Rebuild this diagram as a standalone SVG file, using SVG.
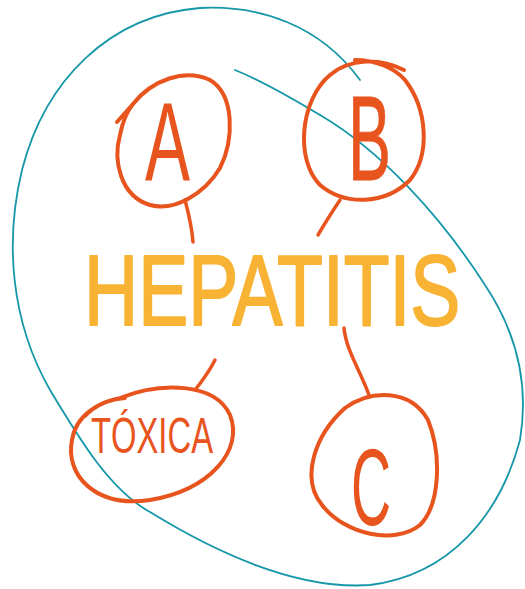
<svg xmlns="http://www.w3.org/2000/svg" width="525" height="589" viewBox="0 0 525 589">
<style>
.teal{fill:none;stroke:#1597a8;stroke-width:1.8;stroke-linecap:round;stroke-linejoin:round}
.ring{fill:none;stroke:#e8541e;stroke-width:4;stroke-linecap:round;stroke-linejoin:round}
.conn{fill:none;stroke:#e8541e;stroke-width:3.5;stroke-linecap:round}
.big{font-family:"Liberation Sans",Arial,sans-serif;fill:#e8541e;stroke:#e8541e;stroke-linejoin:round}
.title{font-family:"Liberation Sans",Arial,sans-serif;font-size:100px;fill:#f8b334;stroke:#f8b334;stroke-width:2;stroke-linejoin:round}
</style>
<rect width="525" height="589" fill="#ffffff"/>
<g id="outline">
<path class="teal" d="M 360,80 C 320,25 260,5 200,8 C 110,15 45,80 22,170 C 5,240 10,320 50,390 C 80,440 110,490 150,512 C 220,555 300,590 370,585 C 450,575 500,515 520,440 C 530,380 515,330 485,285 C 440,215 380,150 320,115 C 290,97 260,80 235,70"/>
</g>
<g id="connectors">
<path class="conn" d="M 185,200 C 189,215 192,228 193,242"/>
<path class="conn" d="M 340,200 C 332,212 325,223 318,235"/>
<path class="conn" d="M 215,360 C 210,370 203,380 195,390"/>
<path class="conn" d="M 344,328 C 346,350 360,370 369,395"/>
</g>
<g id="node-hepatitis">
<text class="title" transform="translate(84,325) scale(0.75,1)" x="0" y="0">HEPATITIS</text>
</g>
<g id="node-a">
<path class="ring" d="M 133,104 C 152,80 185,68 210,80 C 235,95 234,140 220,168 C 205,193 175,212 150,205 C 120,196 113,160 120,135 C 123,120 128,110 133,104 M 117,122 L 133,104"/>
<text class="big" x="145" y="180" font-size="112" stroke-width="0" textLength="45" lengthAdjust="spacingAndGlyphs">A</text>
</g>
<g id="node-b">
<path class="ring" d="M 404,70 C 380,58 350,58 330,75 C 300,100 295,160 320,185 C 345,206 385,205 410,180 C 430,155 428,110 405,80 C 395,68 375,60 355,60"/>
<text class="big" x="348" y="180" font-size="121" stroke-width="0.8" textLength="43" lengthAdjust="spacingAndGlyphs">B</text>
</g>
<g id="node-c">
<path class="ring" d="M 345,408 C 370,390 410,388 428,420 C 442,455 440,505 420,525 C 395,545 345,535 322,505 C 300,478 315,435 345,408 Z"/>
<text class="big" x="351" y="525" font-size="110" stroke-width="0" textLength="40" lengthAdjust="spacingAndGlyphs">C</text>
</g>
<g id="node-toxica">
<path class="ring" d="M 120,398 C 160,382 215,382 230,415 C 244,450 210,490 150,500 C 95,508 65,475 72,440 C 76,415 100,400 125,398 M 85,416 C 95,405 108,400 122,398"/>
<text class="big" x="91" y="453" font-size="50" stroke-width="0" textLength="122" lengthAdjust="spacingAndGlyphs">TÓXICA</text>
</g>
</svg>
